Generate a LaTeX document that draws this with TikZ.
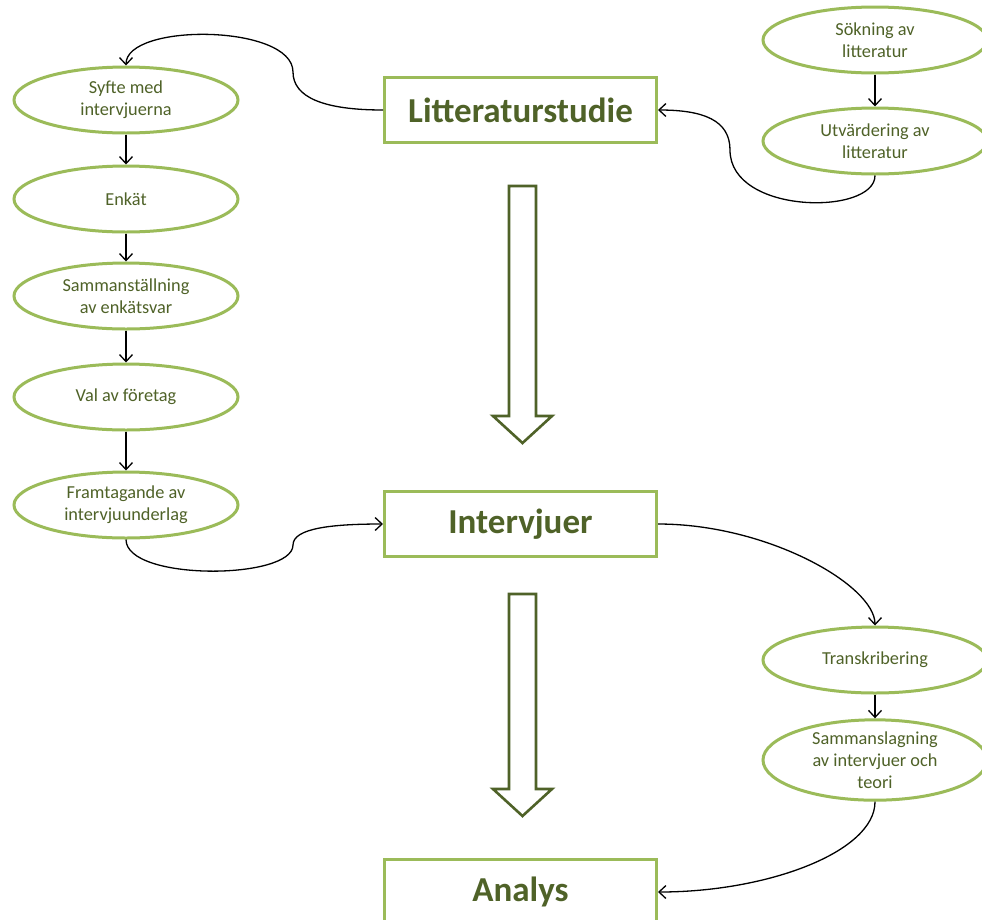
\documentclass[tikz,border=0pt]{standalone}
\usepackage{fontspec}
\setmainfont{Carlito}
\usetikzlibrary{shapes.geometric,arrows.meta}
\definecolor{lgreen}{HTML}{9BBB59}
\definecolor{dgreen}{HTML}{4F6228}
\begin{document}
\begin{tikzpicture}[x=1pt,y=-1pt,
  oval/.style={ellipse,draw=lgreen,line width=3pt,fill=white,minimum width=224pt,minimum height=66pt,inner sep=0pt,align=center,text=dgreen,font=\fontsize{18.3}{22}\selectfont},
  phase/.style={rectangle,draw=lgreen,line width=3pt,fill=white,minimum width=272pt,minimum height=65pt,inner sep=0pt,text=dgreen,font=\fontsize{35}{40}\selectfont\bfseries},
  conn/.style={draw=black,line width=1.3pt,-{Straight Barb[length=7pt,width=13pt,line width=1.3pt]}},
  bigarrow/.style={draw=dgreen,line width=2.6pt,fill=white,line join=miter}]
\clip (0,0) rectangle (982,919);
\fill[white] (0,0) rectangle (982,919);

% phase boxes
\node[phase] (lit) at (520.5,110) {Litteraturstudie};
\node[phase] (intv) at (520.5,524) {Intervjuer};
\node[phase] (ana) at (520.5,892) {Analys};

% left column
\node[oval] (syfte) at (126,100) {Syfte med\\intervjuerna};
\node[oval] (enkat) at (126,199) {Enkät};
\node[oval] (samm) at (126,296) {Sammanställning\\av enkätsvar};
\node[oval] (val) at (126,397) {Val av företag};
\node[oval] (framt) at (126,505) {Framtagande av\\intervjuunderlag};

% right column
\node[oval] (sok) at (875,40) {Sökning av\\litteratur};
\node[oval] (utv) at (875,141) {Utvärdering av\\litteratur};
\node[oval] (trans) at (875,660) {Transkribering};
\node[oval] (sml) at (875,760) {Sammanslagning\\av intervjuer och\\teori};

% block arrows
\draw[bigarrow] (509,186) -- (536,186) -- (536,416) -- (552,416) -- (522.5,443) -- (493,416) -- (509,416) -- cycle;
\draw[bigarrow] (509,594) -- (536,594) -- (536,789) -- (552,789) -- (522.5,816) -- (493,789) -- (509,789) -- cycle;

% straight connectors
\draw[conn] (syfte.south) -- (enkat.north);
\draw[conn] (enkat.south) -- (samm.north);
\draw[conn] (samm.south) -- (val.north);
\draw[conn] (val.south) -- (framt.north);
\draw[conn] (sok.south) -- (utv.north);
\draw[conn] (trans.south) -- (sml.north);

% curved connectors
\coordinate (c1) at (293,72);
\draw[conn] (lit.west) .. controls +(-60,0) and +(0,25) .. (c1) .. controls +(0,-48) and +(0,-43) .. (syfte.north);
\coordinate (c2) at (730,150);
\draw[conn] (utv.south) .. controls +(0,40) and +(0,65) .. (c2) .. controls +(0,-30) and +(45,0) .. (lit.east);
\coordinate (c3) at (293,545);
\draw[conn] (framt.south) .. controls +(0,42) and +(0,35) .. (c3) .. controls +(0,-17) and +(-50,0) .. (intv.west);
\draw[conn] (intv.east) .. controls +(110,0) and +(0,-40) .. (trans.north);
\draw[conn] (sml.south) .. controls +(0,50) and +(110,0) .. (ana.east);
\end{tikzpicture}
\end{document}
